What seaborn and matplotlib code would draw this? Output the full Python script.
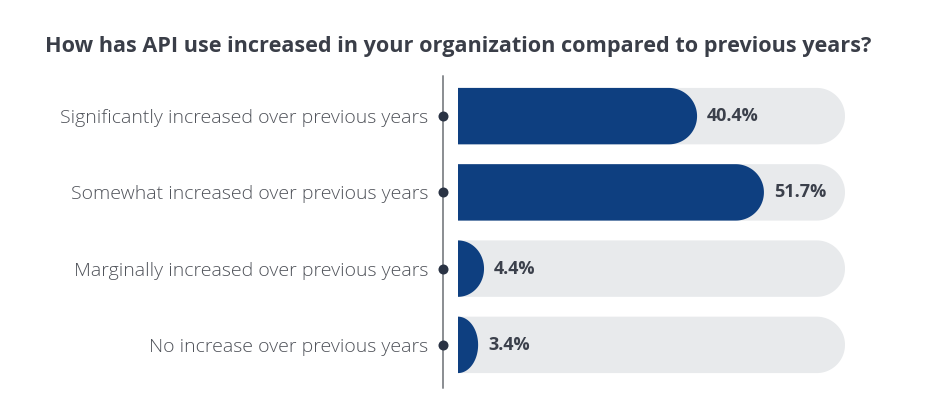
import numpy as np
import pandas as pd
import matplotlib.pyplot as plt
import matplotlib.transforms as mtransforms
from matplotlib.patches import Polygon
import seaborn as sns

# Chart data
categories = [
    "Significantly increased over previous years",
    "Somewhat increased over previous years",
    "Marginally increased over previous years",
    "No increase over previous years",
]
shares = [40.4, 51.7, 4.4, 3.4]
scale_max = 65.4  # length of the grey track

title = "How has API use increased in your organization compared to previous years?"

BLUE = "#0e3f80"
TRACK = "#e8eaec"
TEXT = "#3b404b"
LABEL = "#4f5259"


def rounded_end(patch, rx):
    """Replace a bar patch with one whose right end is rounded."""
    x0, y0 = patch.get_x(), patch.get_y()
    w, h = patch.get_width(), patch.get_height()
    r = min(rx, w)
    cx, cy = x0 + w - r, y0 + h / 2
    t = np.linspace(-np.pi / 2, np.pi / 2, 60)
    arc = np.column_stack([cx + r * np.cos(t), cy + (h / 2) * np.sin(t)])
    pts = np.vstack([[x0, y0], arc, [x0, y0 + h]])
    return Polygon(pts, closed=True, facecolor=patch.get_facecolor(),
                   edgecolor="none", zorder=patch.get_zorder())


def fit_width(fig, txt, target_px):
    """Scale a text's font size so it spans target_px pixels."""
    r = fig.canvas.get_renderer()
    w = txt.get_window_extent(r).width
    txt.set_fontsize(txt.get_fontsize() * target_px / w)
    return txt.get_fontsize()


df = pd.DataFrame({"category": categories, "share": shares})

sns.set_theme(style="white")
plt.rcParams["font.family"] = ["Open Sans", "DejaVu Sans"]

fig = plt.figure(figsize=(9.35, 4.11), dpi=100)
W, H = 935, 411
left, right, top, bottom = 458, 845, 78, 383
ax = fig.add_axes([left / W, 1 - bottom / H, (right - left) / W, (bottom - top) / H])

sns.barplot(data=df.assign(track=scale_max), x="track", y="category",
            color=TRACK, width=0.74, saturation=1, ax=ax, zorder=1)
sns.barplot(data=df, x="share", y="category", color=BLUE, width=0.74,
            saturation=1, ax=ax, zorder=2)

ax.set_xlim(0, scale_max)
ax.set_ylim(len(categories) - 0.5, -0.5)

# rounded caps: radius equals half the bar height in pixels
px_per_unit = (right - left) / scale_max
bar_h_px = 0.74 * (bottom - top) / len(categories)
rx = (bar_h_px / 2) / px_per_unit
for p in list(ax.patches):
    new = rounded_end(p, rx)
    p.remove()
    ax.add_patch(new)

# axis styling
sns.despine(ax=ax, left=True, bottom=True)
ax.set_xlabel("")
ax.set_ylabel("")
ax.set_xticks([])
ax.tick_params(axis="y", length=0, pad=21.5, labelsize=11, labelcolor=LABEL)
for lab in ax.get_yticklabels():
    lab.set_fontweight("light")

# match label widths to the reference
ticklabels = ax.get_yticklabels()
size = fit_width(fig, ticklabels[0], 368)
ax.tick_params(axis="y", labelsize=size)

# value labels
vals = []
for i, v in enumerate(shares):
    vals.append(ax.text(v + 1.7, i, f"{v}%", va="center", ha="left", fontsize=11,
                        fontweight="bold", color=TEXT))
vsize = fit_width(fig, vals[0], 52)
for t in vals:
    t.set_fontsize(vsize)

# vertical guide line and dots, 15px left of the bars
offset = mtransforms.ScaledTranslation(-15 / 100, 0, fig.dpi_scale_trans)
line_tr = mtransforms.blended_transform_factory(ax.transAxes, ax.transAxes) + offset
ax.plot([0, 0], [1.007, -0.017], transform=line_tr, color="#8a8d92", lw=1.4,
        clip_on=False, zorder=3)
dot_tr = mtransforms.blended_transform_factory(ax.transAxes, ax.transData) + offset
ax.scatter(np.zeros(len(categories)), np.arange(len(categories)), transform=dot_tr,
           s=52, color="#2a3344", clip_on=False, zorder=4, linewidths=0)

ttl = fig.text(45 / W, 1 - 52 / H, title, ha="left", va="baseline", fontsize=13,
               fontweight="bold", color="#3a3e48")
fit_width(fig, ttl, 818)

fig.savefig("out.png", dpi=100, facecolor="white")
